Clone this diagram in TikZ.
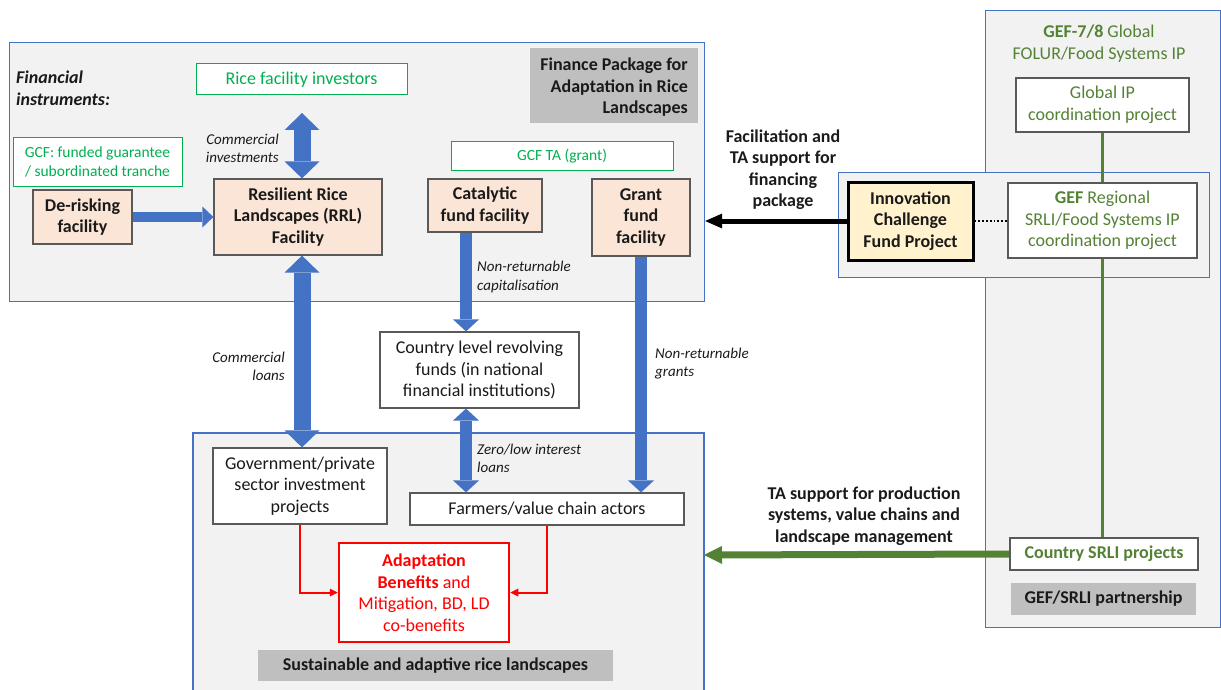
\documentclass[tikz,border=0pt]{standalone}
\usepackage{fontspec}
\setmainfont{Carlito}
\usetikzlibrary{arrows.meta,calc}
\definecolor{panelblue}{HTML}{4472C4}
\definecolor{arrowblue}{HTML}{4472C4}
\definecolor{panelfill}{HTML}{F2F2F2}
\definecolor{peach}{HTML}{FBE5D6}
\definecolor{lgreen}{HTML}{00B050}
\definecolor{dgreen}{HTML}{548235}
\definecolor{labgray}{HTML}{BFBFBF}
\definecolor{cream}{HTML}{FFF2CC}
\definecolor{boxgray}{HTML}{595959}
\definecolor{txtblack}{HTML}{1A1A1A}
\tikzset{
 wh/.style 2 args={minimum width=#1pt,minimum height=#2pt},
 txt/.style={inner sep=0pt, align=center, text=txtblack, font=\fontsize{18}{21.5}\selectfont},
 btxt/.style={txt, font=\fontsize{18}{21.5}\selectfont\bfseries},
 lbl/.style={inner sep=0pt, text=txtblack, font=\fontsize{15}{18}\selectfont\itshape},
 panel/.style={draw=panelblue, fill=panelfill, line width=1.2pt, inner sep=0pt},
 greenbox/.style={draw=lgreen, fill=white, text=lgreen, line width=1pt, inner sep=0pt, align=center, font=\fontsize{15.5}{18.5}\selectfont},
 peachbox/.style={btxt, draw=boxgray, fill=peach, line width=1.2pt},
 whitebox/.style={txt, draw=boxgray, fill=white, line width=1.2pt},
 graylabel/.style={btxt, fill=labgray},
 bigdouble/.style={draw=arrowblue, line width=17pt, arrows={Triangle[width=35pt,length=17pt,line width=0pt]-Triangle[width=35pt,length=17pt,line width=0pt]}},
 middouble/.style={draw=arrowblue, line width=12pt, arrows={Triangle[width=26pt,length=12pt,line width=0pt]-Triangle[width=26pt,length=12pt,line width=0pt]}},
 midsingle/.style={draw=arrowblue, line width=12pt, arrows={-Triangle[width=26pt,length=12pt,line width=0pt]}},
 smallsingle/.style={draw=arrowblue, line width=10pt, arrows={-Triangle[width=21pt,length=11pt,line width=0pt]}},
 blackarrow/.style={draw=black, line width=5pt, arrows={-Triangle[width=15pt,length=17pt,line width=0pt]}},
 greenarrow/.style={draw=dgreen, line width=7pt, arrows={-Triangle[width=18pt,length=18pt,line width=0pt]}},
 redarrow/.style={draw=red, line width=2pt, arrows={-Triangle[width=8pt,length=8pt,line width=0pt]}},
 greenline/.style={draw=dgreen, line width=2.5pt},
}
\begin{document}
\begin{tikzpicture}[x=1pt,y=-1pt]
\useasboundingbox (0,0) rectangle (1221,690);

% ---------- panels ----------
\node[panel, anchor=north west, wh={695}{259}] (fin) at (9,42) {};
\fill[panelfill] (193,433) rectangle (704,690);
\draw[panelblue, line width=1.2pt] (193,690) -- (193,433) -- (704,433) -- (704,690);
\coordinate (botR) at (704,555);
\node[panel, anchor=north west, wh={235}{617}] (gefpanel) at (985,10) {};
\node[panel, anchor=north west, wh={371}{105}] (regpanel) at (838,172) {};

% ---------- finance package ----------
\node[txt, anchor=west, align=left, font=\fontsize{18}{22.5}\selectfont\bfseries\itshape] (fi) at (16,88.5) {Financial\\instruments:};
\node[greenbox, wh={211}{31}, font=\fontsize{18}{21.5}\selectfont] (inv) at (301.5,79.5) {Rice facility investors};
\node[graylabel, wh={168}{75}] (fp) at (614,85.5) {};
\node[btxt, anchor=east, align=right] (fptext) at (688,87.5) {Finance Package for\\Adaptation in Rice\\Landscapes};
\node[greenbox, wh={169}{48}] (gcf) at (97.5,162) {GCF: funded guarantee\\/ subordinated tranche};
\node[peachbox, wh={99}{54}] (der) at (82.5,217) {De-risking\\facility};
\node[peachbox, wh={168}{76}] (rrl) at (298,217) {Resilient Rice\\Landscapes (RRL)\\Facility};
\node[greenbox, wh={222}{29}] (gcfta) at (562,156.5) {GCF TA (grant)};
\node[peachbox, wh={114}{53}] (cat) at (485,205.5) {Catalytic\\fund facility};
\node[peachbox, wh={98}{77}] (grant) at (641,217.5) {Grant\\fund\\facility};

% ---------- middle / bottom ----------
\node[whitebox, wh={199}{76}] (country) at (479.5,370) {Country level revolving\\funds (in national\\financial institutions)};
\node[whitebox, wh={174}{76}] (gov) at (300,486) {Government/private\\sector investment\\projects};
\node[whitebox, wh={274}{32}] (farm) at (547,509) {Farmers/value chain actors};
\node[txt, draw=red, fill=white, line width=2.5pt, text=red, wh={170}{99}] (adapt) at (424,592.5) {\textbf{Adaptation}\\\textbf{Benefits} and\\Mitigation, BD, LD\\co-benefits};
\node[graylabel, wh={355}{31}] (sust) at (435.5,665.5) {Sustainable and adaptive rice landscapes};

% ---------- right side ----------
\node[txt, text=dgreen] (geft) at (1099,43.5) {\textbf{GEF-7/8} Global\\FOLUR/Food Systems IP};
\node[whitebox, text=dgreen, wh={173}{54}] (gip) at (1102.5,105) {Global IP\\coordination project};
\node[whitebox, text=dgreen, wh={189}{75}] (reg) at (1102.5,220.5) {\textbf{GEF} Regional\\SRLI/Food Systems IP\\coordination project};
\node[btxt, draw=black, fill=cream, line width=3pt, wh={125}{78}] (icf) at (910.5,221) {Innovation\\Challenge\\Fund Project};
\node[btxt, draw=boxgray, fill=white, line width=1.2pt, text=dgreen, wh={188}{32}] (srli) at (1104,554) {Country SRLI projects};
\node[graylabel, wh={185}{32}] (part) at (1103.5,599) {GEF/SRLI partnership};

% ---------- italic labels ----------
\node[lbl, anchor=east, align=right] (l1) at (279,148) {Commercial\\investments};
\node[lbl, anchor=west, align=left] (l2) at (477,277) {Non-returnable\\capitalisation};
\node[lbl, anchor=east, align=right] (l3) at (285,366) {Commercial\\loans};
\node[lbl, anchor=west, align=left] (l4) at (655,363.5) {Non-returnable\\grants};
\node[lbl, anchor=west, align=left] (l5) at (477,458) {Zero/low interest\\loans};
\node[btxt] (l6) at (783,169.5) {Facilitation and\\TA support for\\financing\\package};
\node[btxt] (l7) at (864,516) {TA support for production\\systems, value chains and\\landscape management};

% ---------- connectors ----------
\coordinate (ax) at (302,0);
\coordinate (invtip) at (302,113);
\coordinate (cx) at (466,0);
\draw[bigdouble] (invtip) -- (rrl.north -| ax);
\draw[bigdouble] (rrl.south -| ax) -- (gov.north -| ax);
\draw[smallsingle] (der.east) -- (rrl.west |- der.east);
\draw[midsingle] (cat.south -| cx) -- (country.north -| cx);
\draw[middouble] (country.south -| cx) -- (farm.north -| cx);
\draw[midsingle] (grant.south) -- (farm.north -| grant.south);
\draw[redarrow] (gov.south) |- (adapt.west);
\draw[redarrow] (farm.south) |- (adapt.east);
\draw[blackarrow] (icf.west) -- (fin.east |- icf.west);
\draw[black, line width=1.8pt, dotted] (icf.east) -- (reg.west |- icf.east);
\draw[greenline] (gip.south) -- (reg.north -| gip.south);
\draw[greenline] (reg.south) -- (reg.south |- srli.north);
\draw[greenarrow] (srli.west) -- (botR);
\end{tikzpicture}
\end{document}
